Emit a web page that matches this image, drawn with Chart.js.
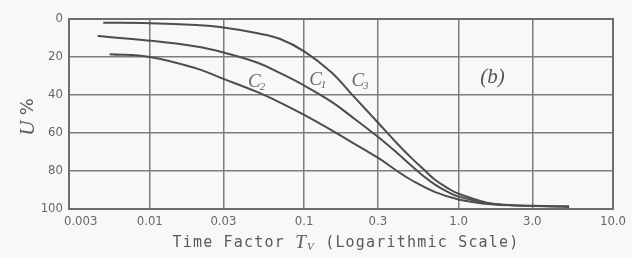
<!DOCTYPE html>
<html>
<head>
<meta charset="utf-8">
<script src="https://cdn.jsdelivr.net/npm/chart.js@4/dist/chart.umd.min.js"></script>
<style>
  html, body { margin: 0; padding: 0; background: #f8f8f6; }
  #wrap { width: 632px; height: 257px; }
</style>
</head>
<body>
<div id="wrap"><canvas id="myChart" width="632" height="257"></canvas></div>
<script>
// valores (Tv, U%)
const tvC3 = [0.005, 0.01, 0.02, 0.03, 0.05, 0.07, 0.1, 0.15, 0.2, 0.25, 0.3, 0.4, 0.5, 0.6, 0.7, 0.85, 1.0, 1.5, 2.0, 3.0, 5.2]
const uC3  = [2, 2.2, 3.2, 4.5, 7.5, 10.5, 17, 28, 39, 47.5, 54.5, 65.5, 73.5, 79.5, 84.5, 89, 92, 96.5, 97.8, 98.3, 98.6]

const tvC1 = [0.0046, 0.01, 0.02, 0.03, 0.05, 0.07, 0.1, 0.15, 0.2, 0.3, 0.4, 0.5, 0.6, 0.7, 0.85, 1.0, 1.5, 2.0, 5.2]
const uC1  = [9, 11.4, 14.5, 17.6, 23, 28.5, 35, 43.5, 51, 62, 70.5, 77.5, 83, 87, 91, 93.5, 96.8, 97.9, 98.9]

const tvC2 = [0.0055, 0.01, 0.02, 0.03, 0.05, 0.07, 0.1, 0.15, 0.2, 0.3, 0.4, 0.5, 0.7, 1.0, 1.5, 2.0]
const uC2  = [18.5, 20, 26, 31.5, 38.5, 44, 50.5, 58.5, 64.5, 73, 80, 85, 91, 95, 97.3, 98]

const xTicks = [0.003, 0.01, 0.03, 0.1, 0.3, 1, 3, 10]
const xTickLabels = ['0.003', '0.01', '0.03', '0.1', '0.3', '1.0', '3.0', '10.0']
const yTicks = [0, 20, 40, 60, 80, 100]

// etiquetas de curva: [nombre, subindice, Tv, U]
const curveLabels = [['C', '2', 0.049, 33], ['C', '1', 0.122, 32], ['C', '3', 0.229, 32.5]]
const panelLabel = ['(b)', 1.66, 31]

const pts = (xs, ys) => xs.map((x, i) => ({ x: x, y: ys[i] }))

const lineStyle = {
    borderColor: '#4d4d4d',
    borderWidth: 2,
    pointRadius: 0,
    fill: false,
    tension: 0.4
}

const tickFont = { family: "'DejaVu Sans Condensed', 'Liberation Sans Narrow', 'DejaVu Sans', sans-serif", size: 13 }

// marco del grafico
const framePlugin = {
    id: 'marco',
    beforeDatasetsDraw(chart) {
        const a = chart.chartArea
        const ctx = chart.ctx
        ctx.save()
        ctx.strokeStyle = '#6e6e6e'
        ctx.lineWidth = 2
        ctx.strokeRect(a.left, a.top, a.right - a.left, a.bottom - a.top)
        ctx.restore()
    }
}

// textos extra: titulos de ejes y etiquetas de curvas
const textPlugin = {
    id: 'textos',
    afterDraw(chart) {
        const ctx = chart.ctx
        const xs = chart.scales.x
        const ys = chart.scales.y
        ctx.save()
        ctx.fillStyle = '#5a5a5a'
        ctx.textBaseline = 'middle'

        // titulo eje x
        const base = "15px 'DejaVu Sans Mono', monospace"
        const parts = [
            { t: 'Time Factor ', f: base, dy: 0 },
            { t: 'T', f: "italic 19px 'Liberation Serif', serif", dy: 0 },
            { t: 'V', f: "italic 11px 'Liberation Serif', serif", dy: 4 },
            { t: ' (Logarithmic Scale)', f: base, dy: 0 }
        ]
        ctx.letterSpacing = '1.2px'
        let total = 0
        parts.forEach(p => { ctx.font = p.f; p.w = ctx.measureText(p.t).width; total += p.w })
        let x = 346 - total / 2
        parts.forEach(p => {
            ctx.font = p.f
            ctx.textAlign = 'left'
            ctx.fillText(p.t, x, 243 + p.dy)
            x += p.w
        })
        ctx.letterSpacing = '0px'

        // titulo eje y
        ctx.save()
        ctx.translate(28, 117)
        ctx.rotate(-Math.PI / 2)
        ctx.textAlign = 'left'
        ctx.font = "italic 21px 'Liberation Serif', serif"
        const wU = ctx.measureText('U ').width
        ctx.font = "18px 'DejaVu Sans', sans-serif"
        const wP = ctx.measureText('%').width
        ctx.font = "italic 21px 'Liberation Serif', serif"
        ctx.fillText('U ', -(wU + wP) / 2, 0)
        ctx.font = "18px 'DejaVu Sans', sans-serif"
        ctx.fillText('%', -(wU + wP) / 2 + wU, 0)
        ctx.restore()

        // etiquetas C1 C2 C3
        ctx.fillStyle = '#6a6a6a'
        curveLabels.forEach(l => {
            const px = xs.getPixelForValue(l[2])
            const py = ys.getPixelForValue(l[3])
            ctx.font = "italic 19px 'Liberation Serif', serif"
            const w1 = ctx.measureText(l[0]).width
            ctx.textAlign = 'left'
            ctx.fillText(l[0], px - w1 / 2 - 2, py)
            ctx.font = "italic 11px 'Liberation Serif', serif"
            ctx.fillText(l[1], px + w1 / 2 - 3, py + 5)
        })

        // (b)
        ctx.fillStyle = '#555'
        ctx.font = "italic 21px 'Liberation Serif', serif"
        ctx.textAlign = 'center'
        ctx.fillText(panelLabel[0], xs.getPixelForValue(panelLabel[1]), ys.getPixelForValue(panelLabel[2]))
        ctx.restore()
    }
}

const context = document.getElementById('myChart')

const myChart = new Chart(context, {
    type: 'line',
    data: {
        datasets: [
            Object.assign({ label: 'C3', data: pts(tvC3, uC3) }, lineStyle),
            Object.assign({ label: 'C1', data: pts(tvC1, uC1) }, lineStyle),
            Object.assign({ label: 'C2', data: pts(tvC2, uC2) }, lineStyle)
        ]
    },
    options: {
        responsive: false,
        animation: false,
        layout: { padding: { top: 19, right: 19, left: 0, bottom: 0 } },
        plugins: {
            legend: { display: false },
            tooltip: { enabled: false }
        },
        scales: {
            x: {
                type: 'logarithmic',
                min: 0.003,
                max: 10,
                afterBuildTicks: s => { s.ticks = xTicks.map(v => ({ value: v })) },
                afterFit: s => { s.height = 48 },
                ticks: {
                    autoSkip: false,
                    maxRotation: 0,
                    padding: 5,
                    color: '#666',
                    font: tickFont,
                    callback: (v, i) => i === 0 ? '\u2003\u2003' + xTickLabels[i] : xTickLabels[i]
                },
                grid: { color: '#7d7d7d', lineWidth: 1.5, drawTicks: false },
                border: { color: '#6e6e6e', width: 2 }
            },
            y: {
                reverse: true,
                min: 0,
                max: 100,
                afterBuildTicks: s => { s.ticks = yTicks.map(v => ({ value: v })) },
                afterFit: s => { s.width = 69 },
                ticks: {
                    padding: 6,
                    color: '#666',
                    font: tickFont
                },
                grid: { color: '#7d7d7d', lineWidth: 1.5, drawTicks: false },
                border: { color: '#6e6e6e', width: 2 }
            }
        }
    },
    plugins: [framePlugin, textPlugin]
})
</script>
</body>
</html>
